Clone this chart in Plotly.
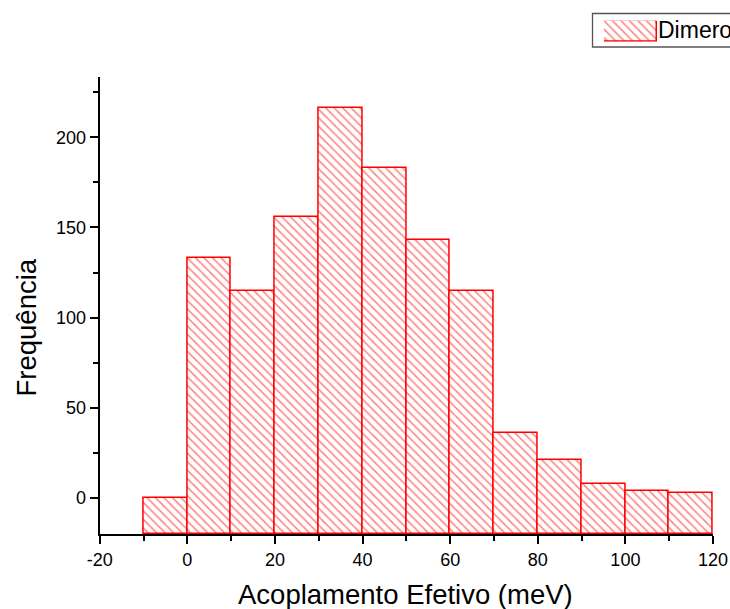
import plotly.graph_objects as go

# Data
bin_left = [-10, 0, 10, 20, 30, 40, 50, 60, 70, 80, 90, 100, 110]
freq = [0, 133, 115, 156, 216, 183, 143, 115, 36, 21, 8, 4, 3]
bin_width = 10
series_name = "Dimero"
x_title = "Acoplamento Efetivo (meV)"
y_title = "Frequência"
x_tickvals = [-20, 0, 20, 40, 60, 80, 100, 120]
x_ticktext = ["-20", "0", "20", "40", "60", "80", "100", "120"]
y_tickvals = [0, 50, 100, 150, 200]

W, H = 730, 609
y_min, y_max = -20, 233.4
x_min, x_max = -20, 120

RED = "#ff0000"
FONT = "Liberation Sans, Arial, sans-serif"

centers = [b + bin_width / 2 for b in bin_left]
heights = [v - y_min for v in freq]

pattern = dict(shape="\\", fgcolor=RED, bgcolor="white", size=6, solidity=0.25, fillmode="overlay")

fig = go.Figure()
fig.add_trace(go.Bar(
    x=centers, y=heights, base=y_min, width=bin_width,
    customdata=freq, hovertemplate="%{x}: %{customdata}<extra></extra>",
    marker=dict(color="white", pattern=pattern, line=dict(color=RED, width=1.5)),
    name=series_name, showlegend=False, xaxis="x", yaxis="y",
))
# legend swatch
fig.add_trace(go.Bar(
    x=[0], y=[1], width=1,
    marker=dict(color="white", pattern=pattern, line=dict(color=RED, width=1.5)),
    showlegend=False, hoverinfo="skip", xaxis="x2", yaxis="y2",
))

def px_x(p):
    return p / W

def px_y(p):
    return (H - p) / H

axis_common = dict(
    showline=True, linecolor="black", linewidth=2, ticks="outside", ticklen=8,
    tickwidth=2, tickcolor="black", showgrid=False, zeroline=False,
    tickfont=dict(family=FONT, size=18, color="black"),
)

fig.update_layout(
    width=W, height=H,
    margin=dict(l=0, r=0, t=0, b=0, autoexpand=False),
    paper_bgcolor="white", plot_bgcolor="rgba(0,0,0,0)",
    bargap=0,
    xaxis=dict(domain=[px_x(99.7), px_x(713)], range=[x_min, x_max], tickvals=x_tickvals,
               ticktext=x_ticktext, anchor="y",
               minor=dict(dtick=10, tick0=0, ticks="outside", ticklen=5, tickwidth=2, tickcolor="black"),
               **axis_common),
    yaxis=dict(domain=[px_y(534), px_y(77)], range=[y_min, y_max], tickvals=y_tickvals,
               anchor="x", minor=dict(dtick=25, tick0=0, ticks="outside", ticklen=5, tickwidth=2, tickcolor="black"),
               **axis_common),
    xaxis2=dict(domain=[px_x(604), px_x(657)], range=[-0.5, 0.5], visible=False, anchor="y2", fixedrange=True),
    yaxis2=dict(domain=[px_y(41.7), px_y(20.7)], range=[0, 1], visible=False, anchor="x2", fixedrange=True),
    showlegend=False,
    shapes=[dict(type="rect", xref="paper", yref="paper",
                 x0=px_x(592.5), x1=1.05, y0=px_y(47), y1=px_y(13.5),
                 line=dict(color="#555555", width=1.3), fillcolor="rgba(0,0,0,0)")],
    annotations=[
        dict(text=x_title, xref="paper", yref="paper", x=px_x(405), y=px_y(594),
             xanchor="center", yanchor="middle", showarrow=False,
             font=dict(family=FONT, size=27.5, color="black")),
        dict(text=y_title, xref="paper", yref="paper", x=px_x(26), y=px_y(327.5),
             xanchor="center", yanchor="middle", textangle=-90, showarrow=False,
             font=dict(family=FONT, size=27.5, color="black")),
        dict(text=series_name, xref="paper", yref="paper", x=px_x(656), y=px_y(30),
             xanchor="left", yanchor="middle", showarrow=False,
             font=dict(family=FONT, size=23, color="black")),
    ],
)

fig.write_html("out.html")
